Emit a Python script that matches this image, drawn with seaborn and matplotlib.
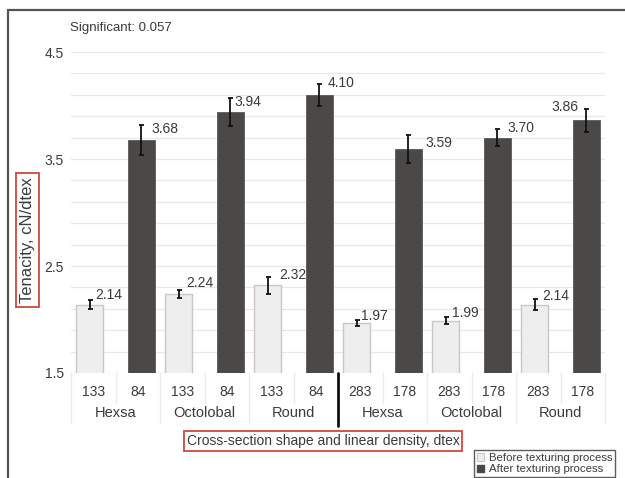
import numpy as np
import pandas as pd
import matplotlib
matplotlib.use("Agg")
import matplotlib.pyplot as plt
import matplotlib.transforms as mtransforms
from matplotlib.lines import Line2D
from matplotlib.patches import Patch
import seaborn as sns

# ---- data -------------------------------------------------------------
shapes = ["Hexsa", "Hexsa", "Octolobal", "Octolobal", "Round", "Round",
          "Hexsa", "Hexsa", "Octolobal", "Octolobal", "Round", "Round"]
densities = ["133", "84", "133", "84", "133", "84",
             "283", "178", "283", "178", "283", "178"]
process = ["Before texturing process", "After texturing process"] * 6
tenacity = [2.14, 3.68, 2.24, 3.94, 2.32, 4.10,
            1.97, 3.59, 1.99, 3.70, 2.14, 3.86]
tenacity_err = [0.04, 0.14, 0.04, 0.13, 0.08, 0.10,
                0.03, 0.13, 0.03, 0.08, 0.055, 0.11]
significance = "Significant: 0.057"

# ---- styling ----------------------------------------------------------
sns.set_style("white")
plt.rcParams["font.family"] = ["Liberation Sans", "DejaVu Sans"]
TXT = "#3b3b3b"
LIGHT = "#efeeee"
LIGHT_EDGE = "#cdc5c5"
DARK = "#4b4948"
BOX_RED = "#cf4a3c"

slots = [f"s{i}" for i in range(len(tenacity))]
df = pd.DataFrame({"slot": slots, "shape": shapes, "density": densities,
                   "process": process, "tenacity": tenacity,
                   "err": tenacity_err})

fig = plt.figure(figsize=(6.25, 4.78), dpi=100)
ax = fig.add_axes([71 / 625, 1 - 373 / 478, 534 / 625, 321 / 478])

hue_order = ["Before texturing process", "After texturing process"]
sns.barplot(data=df, x="slot", y="tenacity", hue="process", order=slots,
            hue_order=hue_order, dodge=False, width=0.6, errorbar=None,
            palette={hue_order[0]: LIGHT, hue_order[1]: DARK},
            legend=False, ax=ax)

# nudge the two series slightly apart within each slot
shift = {0: -0.08, 1: 0.08}
centers = {}
for ci, cont in enumerate(ax.containers):
    for p in cont.patches:
        p.set_x(p.get_x() + shift[ci])
        if ci == 0:
            p.set_edgecolor(LIGHT_EDGE)
            p.set_linewidth(1.0)
        else:
            p.set_edgecolor(DARK)
            p.set_linewidth(0.5)
        if p.get_height() > 0:
            centers[round(p.get_x() + p.get_width() / 2 - shift[ci])] = \
                p.get_x() + p.get_width() / 2

xs = np.array([centers[i] for i in range(len(tenacity))])
ax.errorbar(xs, tenacity, yerr=tenacity_err, fmt="none", ecolor="#111111",
            elinewidth=1.3, capsize=1.8, capthick=1.3, zorder=5)

# value labels (offsets in points)
label_dx = [4, 7, 5.4, 3.2, 8, 5.8, 3.2, 12.2, 4.7, 7.2, 5.4, -5.8]
label_dy = [6.5, 8, 8, 7.2, 7.6, 8.4, 5, 4.3, 5.8, 6.8, 5.8, 10]
for x, v, dx, dy in zip(xs, tenacity, label_dx, label_dy):
    ax.annotate(f"{v:.2f}", (x, v), xytext=(dx, dy), textcoords="offset points",
                ha="left" if dx >= 0 else "right", va="center",
                fontsize=10, color=TXT)

# axes
ax.set_xlim(-0.5, len(tenacity) - 0.5)
ax.set_ylim(1.5, 4.5)
ax.set_yticks([1.5, 2.5, 3.5, 4.5])
ax.set_yticklabels(["1.5", "2.5", "3.5", "4.5"])
ax.set_yticks(np.arange(1.7, 4.4, 0.2), minor=True)
ax.grid(True, axis="y", which="both", color="#e8e8e8", lw=0.9)
ax.set_axisbelow(True)
for s in ax.spines.values():
    s.set_visible(False)
ax.tick_params(axis="y", length=0, pad=5, labelsize=10, labelcolor=TXT)
ax.set_xticks(range(len(tenacity)))
ax.set_xticklabels(densities)
ax.tick_params(axis="x", length=0, pad=9, labelsize=10, labelcolor=TXT)
ax.set_xlabel("")
ax.set_ylabel("")

# shape names under each pair of slots
trans = mtransforms.blended_transform_factory(ax.transData, ax.transAxes)
for i in range(0, len(shapes), 2):
    ax.annotate(shapes[i], (i + 0.5, 0), xycoords=trans, xytext=(0, -29),
                textcoords="offset points", ha="center", va="center",
                fontsize=10.5, color=TXT)

# category table separators
for b in np.arange(-0.5, len(tenacity), 1.0):
    k = int(round(b + 0.5))
    bottom = -0.156 if k % 2 == 0 else -0.093
    ax.plot([b, b], [0, bottom], transform=trans, color="#ebebeb",
            lw=1.0, clip_on=False, zorder=0)
ax.plot([5.5, 5.5], [0, -0.165], transform=trans, color="#111111",
        lw=2.0, clip_on=False, zorder=3)

# titles and boxed axis labels
fig.text(70 / 625, 1 - 28 / 478, significance, fontsize=9.5, color=TXT,
         ha="left", va="center")
fig.text(27.5 / 625, 1 - 240 / 478, "Tenacity, cN/dtex", rotation=90,
         fontsize=12, color=TXT, ha="center", va="center",
         bbox=dict(boxstyle="square,pad=0.25", fc="white", ec=BOX_RED, lw=1.3))
fig.text(323 / 625, 1 - 441 / 478, "Cross-section shape and linear density, dtex",
         fontsize=10, color=TXT, ha="center", va="center",
         bbox=dict(boxstyle="square,pad=0.2", fc="white", ec=BOX_RED, lw=1.3))

# legend
handles = [Patch(facecolor=LIGHT, edgecolor=LIGHT_EDGE, lw=0.8),
           Patch(facecolor=DARK, edgecolor=DARK)]
fig.legend(handles, hue_order, loc="lower right",
           bbox_to_anchor=(615 / 625, 1 / 478), bbox_transform=fig.transFigure,
           fontsize=8.2, handlelength=0.6, handleheight=0.6, handletextpad=0.4,
           borderpad=0.25, labelspacing=0.1, borderaxespad=0, fancybox=False,
           frameon=True, edgecolor="#333333", labelcolor=TXT)
leg = fig.legends[0]
leg.get_frame().set_linewidth(1.0)

# figure border
fig.add_artist(Line2D([8 / 625, 8 / 625], [0, 1 - 10 / 478],
                      transform=fig.transFigure, color="#555555", lw=1.6))
fig.add_artist(Line2D([8 / 625, 1], [1 - 10 / 478, 1 - 10 / 478],
                      transform=fig.transFigure, color="#555555", lw=1.6))

fig.savefig("out.png", dpi=100, facecolor="white")
